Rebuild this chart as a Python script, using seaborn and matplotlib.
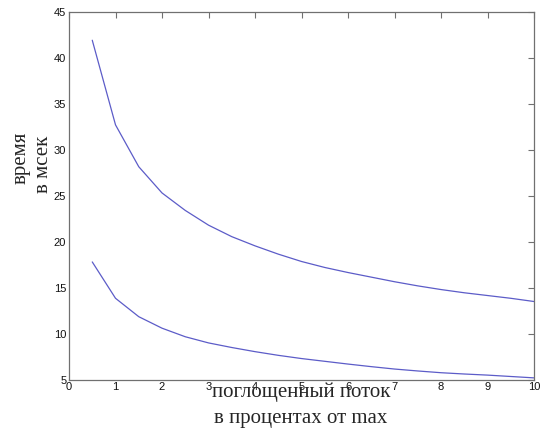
import matplotlib
matplotlib.use("Agg")
import matplotlib.pyplot as plt
import seaborn as sns
import pandas as pd

# Data
flow_pct = [0.5, 1, 1.5, 2, 2.5, 3, 3.5, 4, 4.5, 5, 5.5, 6, 6.5, 7, 7.5, 8, 8.5, 9, 9.5, 10]
time_upper = [41.9, 32.7, 28.15, 25.3, 23.4, 21.8, 20.55, 19.55, 18.65, 17.85, 17.2, 16.65,
              16.15, 15.65, 15.2, 14.8, 14.45, 14.15, 13.85, 13.5]
time_lower = [17.8, 13.85, 11.85, 10.6, 9.67, 9.0, 8.5, 8.05, 7.65, 7.3, 7.0, 6.7,
              6.42, 6.16, 5.95, 5.76, 5.62, 5.5, 5.35, 5.2]
x_ticks = [0, 1, 2, 3, 4, 5, 6, 7, 8, 9, 10]
y_ticks = [5, 10, 15, 20, 25, 30, 35, 40, 45]

df = pd.concat([
    pd.DataFrame({"x": flow_pct, "y": time_upper, "s": "upper"}),
    pd.DataFrame({"x": flow_pct, "y": time_lower, "s": "lower"}),
])

sns.set_style("white")
plt.rcParams["font.family"] = ["Liberation Sans", "DejaVu Sans"]

fig = plt.figure(figsize=(5.4, 4.29), dpi=100)
ax = fig.add_axes([0.1278, 0.1149, 0.9889 - 0.1278, 0.9727 - 0.1149])

line_color = "#5c5cc8"
sns.lineplot(data=df, x="x", y="y", hue="s", palette=[line_color, line_color],
             legend=False, ax=ax, linewidth=0.9, estimator=None, sort=False)

ax.set_xlim(0, 10)
ax.set_ylim(5, 45)
ax.set_xticks(x_ticks)
ax.set_yticks(y_ticks)
ax.set_xlabel("")
ax.set_ylabel("")

spine_c = "#707070"
for sp in ax.spines.values():
    sp.set_visible(True)
    sp.set_color(spine_c)
    sp.set_linewidth(0.9)
ax.tick_params(direction="in", length=4.5, width=0.8, color=spine_c,
               top=True, right=True, labelsize=8, labelcolor="#111111", pad=2)

serif = ["Liberation Serif", "DejaVu Serif"]
fig.text(301 / 540, 1 - 392 / 429, "поглощенный поток", ha="center", va="center",
         fontsize=15, family=serif)
fig.text(301 / 540, 1 - 418 / 429, "в процентах от max", ha="center", va="center",
         fontsize=15, family=serif)
fig.text(21 / 540, 1 - 158 / 429, "время", ha="center", va="center",
         rotation=90, fontsize=15, family=serif)
fig.text(44 / 540, 1 - 164 / 429, "в мсек", ha="center", va="center",
         rotation=90, fontsize=15, family=serif)

fig.savefig("out.png", dpi=100)
